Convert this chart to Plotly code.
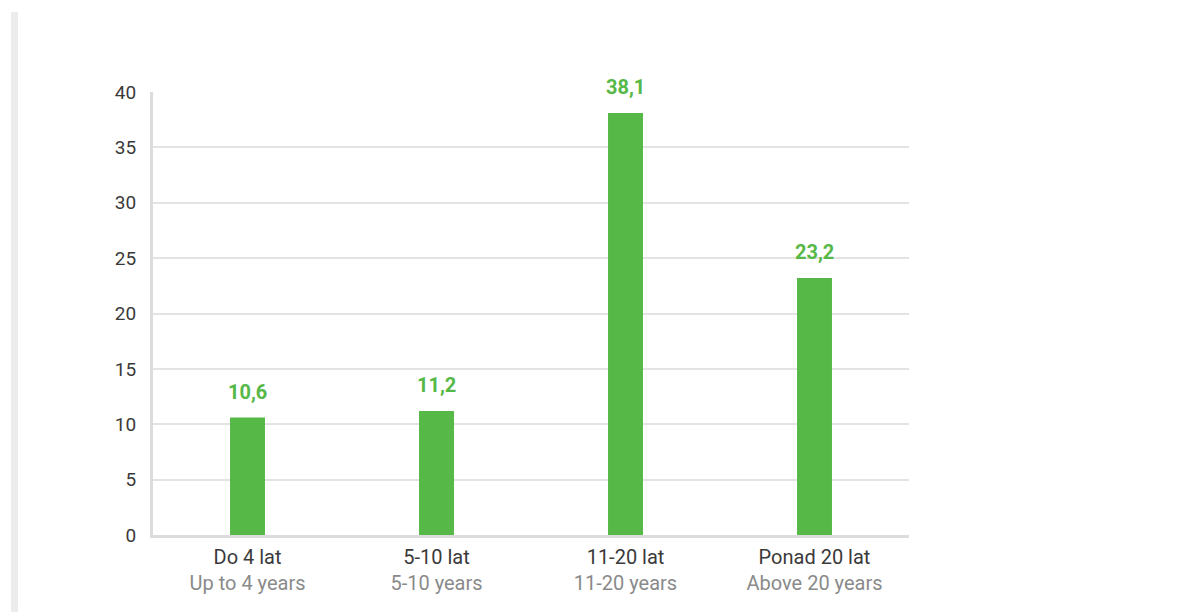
import plotly.graph_objects as go

categories_pl = ["Do 4 lat", "5-10 lat", "11-20 lat", "Ponad 20 lat"]
categories_en = ["Up to 4 years", "5-10 years", "11-20 years", "Above 20 years"]
values = [10.6, 11.2, 38.1, 23.2]
y_ticks = [0, 5, 10, 15, 20, 25, 30, 35, 40]

GREEN = "#56b847"
FONT = "Roboto"

tick_text = [
    f"<span style='color:#3a3a3a'>{pl}</span><br><span style='color:#8a8a8a'>{en}</span>"
    for pl, en in zip(categories_pl, categories_en)
]

fig = go.Figure()
fig.add_trace(go.Bar(
    x=categories_pl,
    y=values,
    marker=dict(color=GREEN, line=dict(width=0)),
    width=0.185,
    hoverinfo="skip",
))

for c, v in zip(categories_pl, values):
    fig.add_annotation(
        x=c, y=v, xref="x", yref="y",
        text=f"<b>{v:.1f}</b>".replace(".", ","),
        showarrow=False, yanchor="bottom", yshift=12,
        font=dict(family=FONT, size=20, color=GREEN),
    )

# light grey vertical strip on the left edge
fig.add_shape(
    type="rect", xref="paper", yref="paper",
    x0=(11 - 153) / 756, x1=(18 - 153) / 756,
    y0=(535 - 620) / 443, y1=(535 - 12) / 443,
    fillcolor="#ececec", line=dict(width=0), layer="below",
)

fig.update_layout(
    width=1170, height=604,
    margin=dict(l=145, r=269, t=84, b=77),
    paper_bgcolor="white", plot_bgcolor="white",
    showlegend=False,
    separators=",.",
    font=dict(family=FONT, size=20, color="#3a3a3a"),
    bargap=0.815,
)
fig.update_xaxes(
    tickmode="array", tickvals=categories_pl, ticktext=tick_text,
    showgrid=False, showline=True, linecolor="#dcdcdc", linewidth=3,
    ticks="", tickfont=dict(family=FONT, size=20),
    ticklabelstandoff=2,
    fixedrange=True,
)
fig.update_yaxes(
    range=[0, 40], tickvals=y_ticks,
    showgrid=True, gridcolor="#e3e3e3", gridwidth=1.5,
    showline=True, linecolor="#dcdcdc", linewidth=3,
    zeroline=False, ticks="", ticklabelstandoff=10,
    tickfont=dict(family=FONT, size=19, color="#3a3a3a"),
    fixedrange=True,
)

fig.write_html("out.html")
